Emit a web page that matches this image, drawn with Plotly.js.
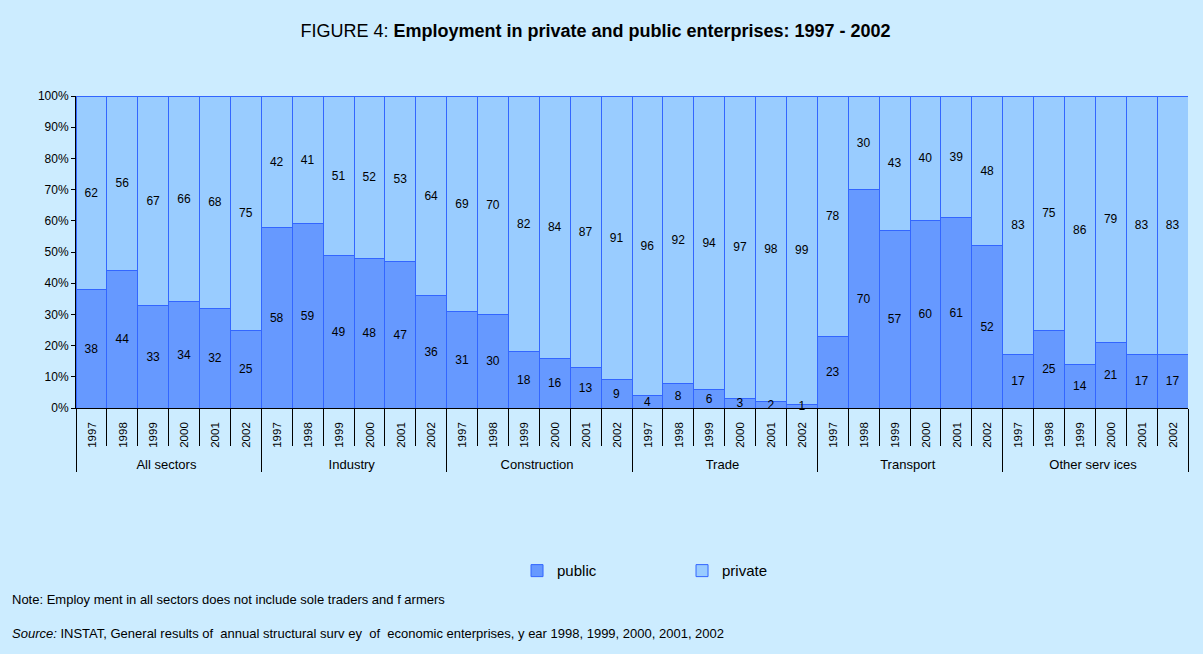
<!DOCTYPE html>
<html>
<head>
<meta charset="utf-8">
<script src="https://cdn.plot.ly/plotly-3.0.1.min.js"></script>
<style>html,body{margin:0;padding:0;background:#CCECFF;}#chart{width:1203px;height:654px;}</style>
</head>
<body>
<div id="chart"></div>
<script>
const sectors = ["All sectors", "Industry", "Construction", "Trade", "Transport", "Other services"];
const years = ["1997", "1998", "1999", "2000", "2001", "2002"];
const publicVals = [
  38, 44, 33, 34, 32, 25,
  58, 59, 49, 48, 47, 36,
  31, 30, 18, 16, 13, 9,
  4, 8, 6, 3, 2, 1,
  23, 70, 57, 60, 61, 52,
  17, 25, 14, 21, 17, 17
];
const privateVals = [
  62, 56, 67, 66, 68, 75,
  42, 41, 51, 52, 53, 64,
  69, 70, 82, 84, 87, 91,
  96, 92, 94, 97, 98, 99,
  78, 30, 43, 40, 39, 48,
  83, 75, 86, 79, 83, 83
];

const groupLabels = sectors.map(s => s === "Other services" ? "Other serv ices" : s);
const xOuter = [], xInner = [];
groupLabels.forEach(s => years.forEach(y => { xOuter.push(s); xInner.push(y); }));

const font = "Liberation Sans, Arial, sans-serif";
const common = {
  type: "bar",
  x: [xOuter, xInner],
  textposition: "inside",
  insidetextanchor: "middle",
  textangle: 0,
  constraintext: "none",
  cliponaxis: false,
  textfont: {family: font, size: 12, color: "#000"},
  hoverinfo: "y+name"
};
const traces = [
  Object.assign({}, common, {
    name: "public", y: publicVals, text: publicVals.map(String),
    marker: {color: "#6699FF", line: {color: "#3366FF", width: 1}}
  }),
  Object.assign({}, common, {
    name: "private", y: privateVals, text: privateVals.map(String),
    marker: {color: "#99CCFF", line: {color: "#3366FF", width: 1}}
  })
];

const layout = {
  width: 1203, height: 654,
  paper_bgcolor: "#CCECFF", plot_bgcolor: "#CCECFF",
  margin: {l: 76, r: 15, t: 96, b: 246},
  barmode: "stack", barnorm: "percent", bargap: 0,
  font: {family: font, color: "#000", size: 12},
  title: {
    text: "FIGURE 4: <b>Employment in private and public enterprises: 1997 - 2002</b>",
    font: {family: font, size: 18, color: "#000"},
    x: 0.495, xanchor: "center", y: 0.953, yanchor: "middle"
  },
  xaxis: {
    type: "multicategory",
    tickangle: -90,
    tickfont: {family: font, size: 13, color: "#000"},
    ticklabelstandoff: 8,
    showline: true, linecolor: "#000", linewidth: 1,
    ticks: "outside", tickson: "boundaries", ticklen: 37, tickcolor: "#000",
    showdividers: true, dividercolor: "#000", dividerwidth: 1,
    showgrid: false, zeroline: false
  },
  yaxis: {
    range: [0, 100], ticksuffix: "%", dtick: 10,
    tickfont: {family: font, size: 12, color: "#000"},
    showline: true, linecolor: "#000", linewidth: 1,
    ticks: "outside", ticklen: 4, tickcolor: "#000",
    showgrid: false, zeroline: false
  },
  showlegend: true,
  legend: {
    orientation: "h", x: 0.3966, xanchor: "left", y: -0.522, yanchor: "middle",
    font: {family: font, size: 15, color: "#000"},
    bgcolor: "rgba(0,0,0,0)", entrywidth: 120, entrywidthmode: "pixels",
    traceorder: "normal"
  },
  annotations: [
    {xref: "paper", yref: "paper", x: -0.0594, xanchor: "left", y: -0.615, yanchor: "middle",
     text: "Note: Employ ment in all sectors does not include sole traders and f armers",
     showarrow: false, font: {family: font, size: 13, color: "#000"}},
    {xref: "paper", yref: "paper", x: -0.0594, xanchor: "left", y: -0.722, yanchor: "middle",
     text: "<i>Source:</i> INSTAT, General results of  annual structural surv ey  of  economic enterprises, y ear 1998, 1999, 2000, 2001, 2002",
     showarrow: false, font: {family: font, size: 13, color: "#000"}}
  ]
};
Plotly.newPlot("chart", traces, layout, {displayModeBar: false, staticPlot: true}).then(function (gd) {
  gd.querySelectorAll(".xtick text").forEach(function (t) {
    if (/^\d{4}$/.test(t.textContent)) t.style.fontSize = "11.5px";
  });
  // keep the public labels on top of the private bars (small Trade values overlap)
  const groups = gd.querySelectorAll(".barlayer .trace.bars");
  if (groups.length === 2) {
    const holder = document.createElementNS("http://www.w3.org/2000/svg", "g");
    groups[0].querySelectorAll("text.bartext").forEach(function (t) {
      holder.appendChild(t.parentNode === holder ? t : t.cloneNode(true));
      t.remove();
    });
    groups[1].parentNode.appendChild(holder);
  }
});
</script>
</body>
</html>
